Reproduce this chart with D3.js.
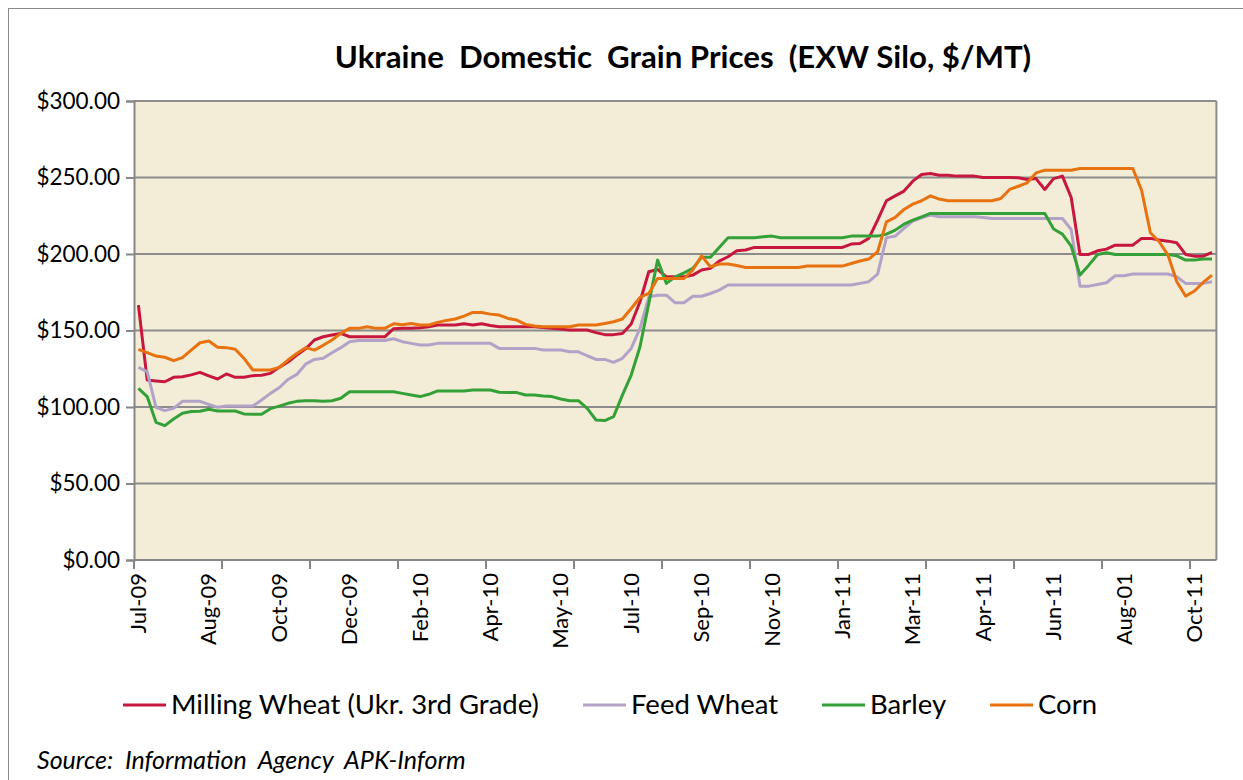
<!DOCTYPE html>
<html><head><meta charset="utf-8">
<script src="https://cdn.jsdelivr.net/npm/d3@7"></script>
<style>
html,body{margin:0;padding:0;background:#fff;}
svg{display:block;}
</style></head>
<body>
<script>
const tickLabels = ["Jul-09","Aug-09","Oct-09","Dec-09","Feb-10","Apr-10","May-10","Jul-10","Sep-10","Nov-10","Jan-11","Mar-11","Apr-11","Jun-11","Aug-01","Oct-11"];
const weekCount = 123;
const yTicks = [0,50,100,150,200,250,300];

const milling = [166.6,117.6,117,116.5,119.4,119.8,121,122.6,120.3,118.3,121.6,119.4,119.4,120.5,120.7,122,125.9,129.4,134,138,
143.8,145.9,147,148.1,145.9,145.9,145.9,145.9,145.9,151.2,151.4,151.4,151.8,152.5,153.6,153.6,153.6,154.4,153.6,154.4,
153.3,152.5,152.5,152.5,152.5,152.5,152,151.4,150.9,150.3,150.3,150.3,148.6,147.3,147.3,148.1,154.2,168.8,188.4,189.9,
185.1,185.1,185.1,186.2,189.5,190.6,195.4,198.2,202.1,202.6,204.3,204.3,204.3,204.3,204.3,204.3,204.3,204.3,204.3,204.3,
204.3,206.5,206.9,210.2,222.1,234.8,238,241.1,247.6,252,252.6,251.5,251.5,250.9,250.9,250.9,250,250,250,250,
249.8,248.7,249.3,242.2,249.3,250.9,236.9,199.7,199.7,202.1,203.2,205.8,205.8,205.8,210.2,210.2,209.1,208.4,207.3,199.7,
198.6,198.6,201];
const feed = [125.9,123.1,99.8,97.6,99.1,103.7,103.7,103.7,101.7,99.8,100.6,100.6,100.6,100.6,104.6,108.9,112.6,118,121.3,128,
131.1,131.8,135.5,138.8,142.7,143.5,143.5,143.5,143.5,144.6,142.7,141.6,140.5,140.5,141.6,141.6,141.6,141.6,141.6,141.6,
141.6,138.3,138.3,138.3,138.3,138.3,137.2,137.2,137.2,136.1,136.1,133.5,131.1,131.1,129.2,131.8,138.3,151.4,172,173.1,
173.1,168.1,168.1,172.4,172.4,174.2,176.4,179.7,179.7,179.7,179.7,179.7,179.7,179.7,179.7,179.7,179.7,179.7,179.7,179.7,
179.7,179.7,180.8,181.9,186.9,210.6,211.7,216.7,221.5,223.7,225.4,224.3,224.3,224.3,224.3,224.3,223.9,223.2,223.2,223.2,
223.2,223.2,223.2,223.2,223.2,223.2,216,179,179,180.1,181.2,185.8,185.8,186.9,186.9,186.9,186.9,186.9,185.1,180.8,
180.8,180.8,181.9];
const barley = [112.2,106.8,90,87.8,92.2,95.9,97,97.2,98.5,97.4,97.4,97.4,95.5,95.2,95.2,98.9,100.6,102.4,103.7,104.1,
104.1,103.7,104.1,105.7,110,110,110,110,110,110,108.9,107.8,106.8,108.3,110.5,110.5,110.5,110.5,111.1,111.1,
111.1,109.6,109.4,109.4,107.8,107.8,107.2,106.8,105.2,104.1,104.1,99.1,91.5,91.1,93.7,107.8,120.9,139.4,167.7,196,
180.8,185.1,187.7,190.6,197.8,197.8,204.3,210.6,210.6,210.6,210.6,211.2,211.7,210.6,210.6,210.6,210.6,210.6,210.6,210.6,
210.6,211.7,211.7,211.7,211.7,213,215.6,219.5,222.1,224.3,226.5,226.5,226.5,226.5,226.5,226.5,226.5,226.5,226.5,226.5,
226.5,226.5,226.5,226.5,216.3,213,205.2,186.2,192.7,199.7,200.8,199.7,199.7,199.7,199.7,199.7,199.7,199.7,198.8,196,
196,196.7,196.7];
const corn = [137.7,135.5,133.3,132.5,130.3,132.3,137.2,142,143.1,139,138.8,137.7,131.8,124.2,124.2,124.2,125.9,130.7,135,138.8,
137.2,140.3,143.8,148.1,151.4,151.4,152.5,151.4,151.4,154.4,153.8,154.6,153.6,153.6,155.3,156.6,157.5,159.4,161.8,161.8,
160.7,160.1,157.9,156.8,154,152.9,152.5,152.5,152.5,152.5,153.6,153.6,153.6,154.6,155.7,157.5,164.4,171.6,174.2,184,
184,184,184,189.5,198.8,191.7,193.4,193.4,192.5,191.2,191.2,191.2,191.2,191.2,191.2,191.2,192.1,192.1,192.1,192.1,
192.1,193.8,195.4,196.7,201.5,221,223.9,229.1,232.6,234.8,238,235.9,234.8,234.8,234.8,234.8,234.8,234.8,236.3,242.2,
244.3,246.5,253,254.8,254.8,254.8,254.8,255.9,255.9,255.9,255.9,255.9,255.9,255.9,241.7,213.9,208,199.3,181.9,172.5,
175.8,181.4,186.2];

const seriesNames = ["Milling Wheat (Ukr. 3rd Grade)","Feed Wheat","Barley","Corn"];
const seriesColors = ["#C8173F","#B3A2C8","#34A038","#E8720F"];
const seriesData = [milling, feed, barley, corn];

(function () {
const W = 1243, H = 780;
const pL = 134, pR = 1216.4, pT = 101, pB = 560;
const FONT = "Lato, 'Open Sans', sans-serif";

const svg = d3.select("body").append("svg").attr("width", W).attr("height", H);

// outer frame
svg.append("rect").attr("x", 8.5).attr("y", 8.5).attr("width", W + 20).attr("height", H + 20)
  .attr("fill", "#fff").attr("stroke", "#8a8a8a").attr("stroke-width", 1);

const x = d3.scaleBand().domain(d3.range(weekCount)).range([pL, pR]).padding(0);
const cx = i => x(i) + x.bandwidth() / 2;
const y = d3.scaleLinear().domain([0, 300]).range([pB, pT]);

// plot background
svg.append("rect").attr("x", pL).attr("y", pT).attr("width", pR - pL).attr("height", pB - pT)
  .attr("fill", "#F3EDD7");

// gridlines
svg.append("g").selectAll("line").data(yTicks.filter(d => d > 0)).join("line")
  .attr("x1", pL).attr("x2", pR).attr("y1", d => y(d)).attr("y2", d => y(d))
  .attr("stroke", "#8c8c8c").attr("stroke-width", 2);

// right border
svg.append("line").attr("x1", pR).attr("x2", pR).attr("y1", pT).attr("y2", pB)
  .attr("stroke", "#8c8c8c").attr("stroke-width", 2);

// y axis
const yAxis = d3.axisLeft(y).tickValues(yTicks).tickSize(8).tickPadding(6)
  .tickFormat(d => "$" + d3.format(".2f")(d));
const gy = svg.append("g").attr("transform", `translate(${pL},0)`).call(yAxis);
gy.select(".domain").attr("stroke", "#868686").attr("stroke-width", 2);
gy.selectAll(".tick line").attr("stroke", "#868686").attr("stroke-width", 2);
gy.selectAll(".tick text").attr("font-family", FONT).attr("font-size", 22.5).attr("fill", "#000");

// x axis: tick marks every 10 weeks, labels every 8 weeks
const tickIdx = d3.range(0, weekCount, 10);
const gxt = svg.append("g");
gxt.append("line").attr("x1", pL).attr("x2", pR).attr("y1", pB).attr("y2", pB)
  .attr("stroke", "#868686").attr("stroke-width", 2);
gxt.selectAll("line.t").data(tickIdx).join("line").attr("class", "t")
  .attr("x1", d => x(d)).attr("x2", d => x(d)).attr("y1", pB).attr("y2", pB + 9)
  .attr("stroke", "#868686").attr("stroke-width", 2);
gxt.selectAll("text").data(tickLabels).join("text")
  .attr("transform", (d, k) => `translate(${cx(k * 8) + 7.5},${pB + 13}) rotate(-90)`)
  .attr("text-anchor", "end").attr("font-family", FONT).attr("font-size", 22).attr("fill", "#000")
  .text(d => d);

// lines
const line = d3.line().x((d, i) => cx(i)).y(d => y(d));
svg.append("g").selectAll("path").data(seriesData).join("path")
  .attr("d", d => line(d)).attr("fill", "none")
  .attr("stroke", (d, k) => seriesColors[k]).attr("stroke-width", 3)
  .attr("stroke-linejoin", "round");

// title
svg.append("text").attr("x", 683).attr("y", 68).attr("text-anchor", "middle")
  .attr("font-family", FONT).attr("font-weight", "bold").attr("font-size", 31.2).attr("fill", "#000")
  .style("white-space", "pre")
  .text("Ukraine  Domestic  Grain Prices  (EXW Silo, $/MT)");

// legend
const legX = [123, 583, 822, 990];
const lg = svg.append("g");
seriesNames.forEach((n, k) => {
  lg.append("line").attr("x1", legX[k]).attr("x2", legX[k] + 43).attr("y1", 705).attr("y2", 705)
    .attr("stroke", seriesColors[k]).attr("stroke-width", 3);
  lg.append("text").attr("x", legX[k] + 48).attr("y", 714).attr("font-family", FONT)
    .attr("font-size", 27.5).attr("fill", "#000").text(n);
});

// source
svg.append("text").attr("x", 37).attr("y", 769).attr("font-family", FONT).attr("font-style", "italic")
  .attr("font-size", 25).attr("fill", "#000").style("white-space", "pre")
  .text("Source:  Information  Agency  APK-Inform");
})();
</script>
</body></html>
